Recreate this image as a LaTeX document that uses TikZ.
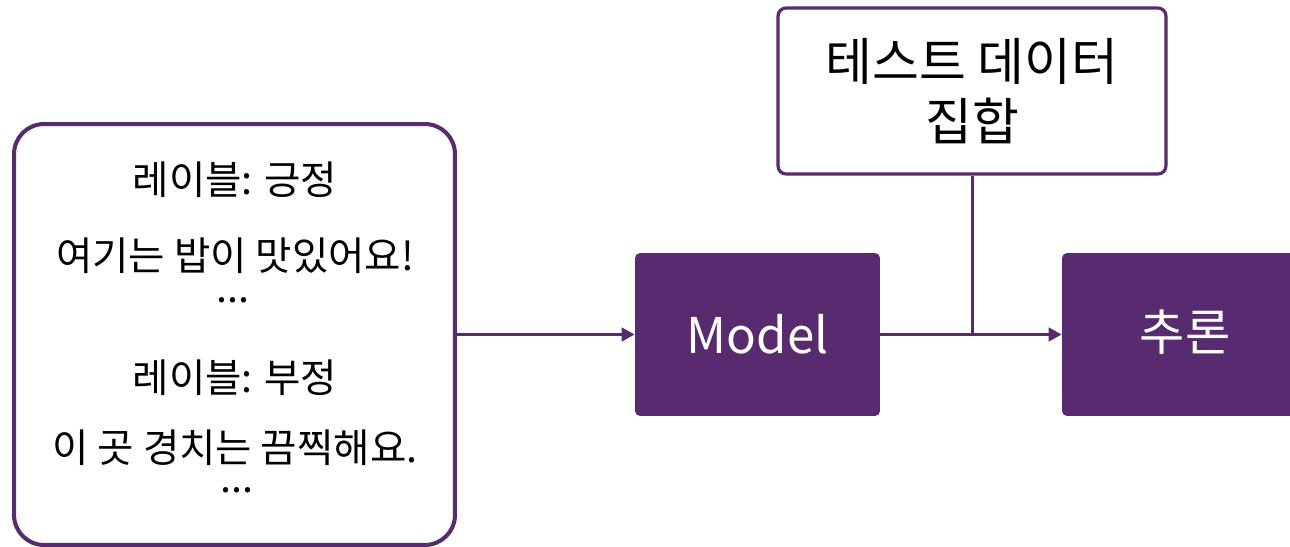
\documentclass[tikz,border=0pt]{standalone}
\usepackage{fontspec}
\setmainfont{Noto Sans CJK KR}
\usetikzlibrary{arrows.meta}
\usetikzlibrary{positioning}
\definecolor{plum}{RGB}{88,43,112}

\begin{document}
\begin{tikzpicture}
[x=0.02cm,y=-0.02cm,
  outbox/.style = {rectangle,draw=plum,line width=2.3pt,fill=white,rounded corners=0.6cm,
        minimum width=8.82cm,minimum height=8.42cm},
  topbox/.style = {rectangle,draw=plum,line width=1.8pt,fill=white,rounded corners=0.16cm,
        minimum width=7.76cm,minimum height=3.32cm,align=center,
        font=\fontsize{29}{34}\selectfont},
  fillbox/.style = {rectangle,fill=plum,rounded corners=0.1cm,text=white,
        minimum width=4.9cm,minimum height=3.26cm,font=\fontsize{28}{34}\selectfont},
  txt/.style = {font=\fontsize{22.5}{26}\selectfont,inner sep=0pt,text depth=0pt},
  dots/.style = {font=\fontsize{22.5}{26}\selectfont,inner sep=0pt,text height=0.12cm,text depth=0pt},
  onearrow/.style = {-{Triangle[length=0.26cm,width=0.27cm]},draw=plum,line width=1.7pt},
  oneline/.style = {draw=plum,line width=1.7pt}]
\useasboundingbox (0,0) rectangle (1290,547);

\node[outbox] (data) at (234.5,334.5) {};
\node[txt] (lab1) at (235,178) {레이블: 긍정};
\node[txt] (txt1) at (235,254) {여기는 밥이 맛있어요!};
\node[dots] (dot1) at (233,299) {...};
\node[txt] (lab2) at (235,376) {레이블: 부정};
\node[txt] (txt2) at (235,446) {이 곳 경치는 끔찍해요.};
\node[dots] (dot2) at (237,489) {...};
%
\node[fillbox] (model) at (757.5,334.5) {Model};
\node[fillbox,minimum width=5.6cm] (infer) at (1202,334.5) {};
\node[text=white,font=\fontsize{28}{34}\selectfont] (infertxt) at (1185,332) {추론};
\node[topbox] (test) at (972,91) {테스트 데이터\\집합};
%
\coordinate (join) at (test.south |- model.east);
%
   \draw[onearrow] (data.east) -- (model.west);
   \draw[onearrow] (model.east) -- (infer.west);
   \draw[oneline] (test.south) -- (join);
\end{tikzpicture}
\end{document}
